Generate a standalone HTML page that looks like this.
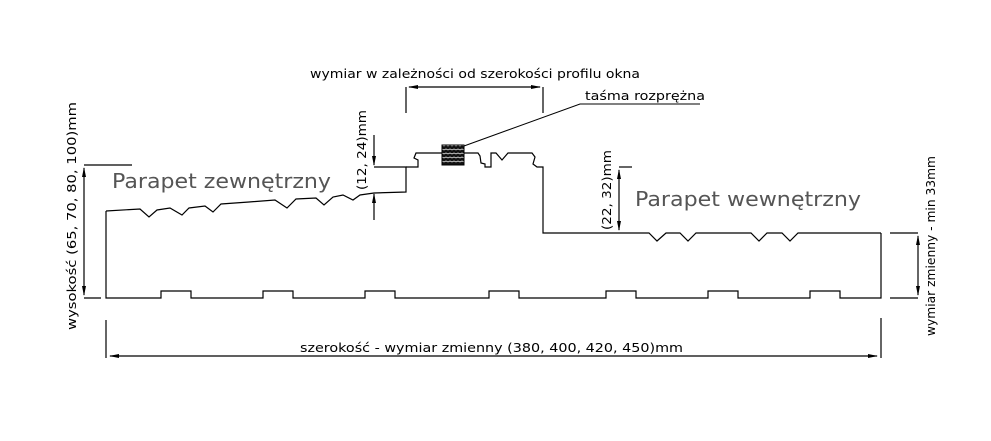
<!DOCTYPE html>
<html><head><meta charset="utf-8"><style>
html,body{margin:0;padding:0;background:#fff;width:991px;height:441px;overflow:hidden}
svg{display:block}
text{font-family:"DejaVu Sans","Liberation Sans",sans-serif}
</style></head><body>
<svg width="991" height="441" viewBox="0 0 991 441" xmlns="http://www.w3.org/2000/svg">
<defs>
<marker id="a" markerWidth="10" markerHeight="6" refX="9" refY="3" orient="auto" markerUnits="userSpaceOnUse"><path d="M0,1 L10,3 L0,5z" fill="#000"/></marker>
<pattern id="p" width="4" height="4" patternUnits="userSpaceOnUse"><rect width="4" height="4" fill="#111"/><path d="M0,2 L2,1 L4,2" stroke="#ddd" stroke-width="0.8" fill="none"/></pattern>
</defs>
<g stroke="#000" stroke-width="1.2" fill="none">
<path d="M106,211 L106,298 L161,298 L161,291 L191,291 L191,298 L263,298 L263,291 L293,291 L293,298 L365,298 L365,291 L395,291 L395,298 L489,298 L489,291 L519,291 L519,298 L606,298 L606,291 L636,291 L636,298 L708,298 L708,291 L738,291 L738,298 L810,298 L810,291 L840,291 L840,298 L881,298 L881,233"/>
<path d="M106,211 L140,209 L149,217 L157,210 L170,208 L182,215 L189,208 L205,206 L213,212 L221,204 L249,202 L275,200 L287,208 L296,199 L316,198 L324,205 L333,197 L343,195 L353,200 L360,195 L374,193 L406,192 L406,167 L374,167"/>
<path d="M406,167 L418,167 L418,160 L414,158 L416,153 L478,153 L480,156 L481,163 L485,164 L485,167 L491,167 L491,153 L496,153 L502,160 L508,153 L532,153 L535,157 L533,164 L537,167 L543,167 L543,233 L649,233 L657,241 L666,233 L680,233 L688,241 L696,233 L751,233 L759,241 L767,233 L782,233 L790,241 L798,233 L881,233"/>
<path d="M84,165 L132,165 M84,298 L101,298"/>
<path d="M84,230 L84,168" marker-end="url(#a)"/>
<path d="M84,230 L84,295" marker-end="url(#a)"/>
<path d="M106,320 L106,358 M881,318 L881,358"/>
<path d="M490,356 L877,356" marker-end="url(#a)"/>
<path d="M490,356 L110,356" marker-end="url(#a)"/>
<path d="M890,233 L918,233 M890,298 L918,298"/>
<path d="M918,265 L918,295" marker-end="url(#a)"/>
<path d="M918,265 L918,236" marker-end="url(#a)"/>
<path d="M406,87 L406,113 M543,87 L543,113"/>
<path d="M475,87 L540,87" marker-end="url(#a)"/>
<path d="M475,87 L409,87" marker-end="url(#a)"/>
<path d="M374,135 L374,165" marker-end="url(#a)"/>
<path d="M374,220 L374,194" marker-end="url(#a)"/>
<path d="M619,167 L632,167"/>
<path d="M619,200 L619,170" marker-end="url(#a)"/>
<path d="M619,200 L619,230" marker-end="url(#a)"/>
<path d="M464,146 L580,104 L700,104" stroke-width="1"/>
</g>
<rect x="442" y="145" width="22" height="20" fill="url(#p)" stroke="#000"/>
<g font-size="12.5" fill="#000">
<text x="310" y="78" textLength="330" lengthAdjust="spacingAndGlyphs">wymiar w zależności od szerokości profilu okna</text>
<text x="585" y="100" textLength="120" lengthAdjust="spacingAndGlyphs">taśma rozprężna</text>
<text x="300" y="352" textLength="383" lengthAdjust="spacingAndGlyphs">szerokość - wymiar zmienny (380, 400, 420, 450)mm</text>
<text transform="translate(76,330) rotate(-90)" textLength="228" lengthAdjust="spacingAndGlyphs">wysokość (65, 70, 80, 100)mm</text>
<text transform="translate(935,336) rotate(-90)" textLength="180" lengthAdjust="spacingAndGlyphs">wymiar zmienny - min 33mm</text>
<text transform="translate(366,190) rotate(-90)" textLength="80" lengthAdjust="spacingAndGlyphs">(12, 24)mm</text>
<text transform="translate(611,230) rotate(-90)" textLength="80" lengthAdjust="spacingAndGlyphs">(22, 32)mm</text>
</g>
<g font-size="20" fill="#555">
<text x="112" y="188" textLength="219" lengthAdjust="spacingAndGlyphs">Parapet zewnętrzny</text>
<text x="635" y="206" textLength="226" lengthAdjust="spacingAndGlyphs">Parapet wewnętrzny</text>
</g>
</svg>
</body></html>
